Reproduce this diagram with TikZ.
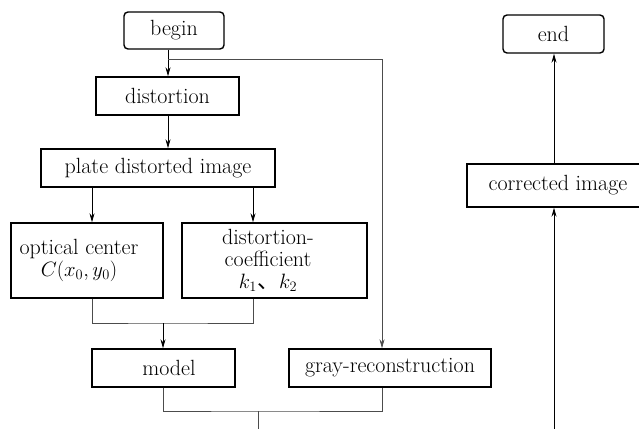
\documentclass[tikz,border=0pt]{standalone}
\usepackage{fontspec}
\newfontfamily\cjk{Noto Sans CJK SC}
\usetikzlibrary{arrows.meta}
\begin{document}
\begin{tikzpicture}[x=1pt,y=-1pt,
  box/.style={draw, line width=1.4pt, inner sep=0pt, font=\fontsize{22}{22}\selectfont, align=center},
  rbox/.style={box, rounded corners=4pt},
  arr/.style={-{Stealth[length=9pt,width=5pt]}, line width=0.9pt},
  ln/.style={line width=0.8pt, draw=black!70},
  txt/.style={font=\fontsize{22}{22}\selectfont, align=center, inner sep=0pt}]
\clip (0,0) rectangle (639,428);
\fill[white] (0,0) rectangle (639,428);
% nodes
\node[rbox, minimum width=100pt, minimum height=37pt] (begin) at (174,30.5) {begin};
\node[box, minimum width=143pt, minimum height=38pt] (dist) at (167.5,96) {distortion};
\node[box, minimum width=234pt, minimum height=38pt] (plate) at (158,168) {plate distorted image};
\node[box, minimum width=152pt, minimum height=75pt] (opt) at (87,260.5) {};
\node[txt] (optt) at (79,260.5) {optical center\\$C(x_0, y_0)$};
\node[box, minimum width=185pt, minimum height=75pt] (dc) at (274.5,260.5) {};
\node[txt] (dct) at (268,260.5) {distortion-\\coefficient\\$k_1${\cjk 、}$k_2$};
\node[box, minimum width=143pt, minimum height=38pt] (model) at (163.5,368) {};
\node[txt] (modelt) at (169,368) {model};
\node[box, minimum width=202pt, minimum height=38pt] (gray) at (390,368) {gray-reconstruction};
\node[rbox, minimum width=101pt, minimum height=38pt] (end) at (553.5,34) {end};
\node[box, minimum width=182pt, minimum height=43pt] (corr) at (558,185.5) {corrected image};
% helper coordinates
\coordinate (j1) at (168,59);
\coordinate (gx) at (382,0);
\coordinate (ax) at (92,0);
\coordinate (bx) at (253,0);
\coordinate (m1) at (163,323);
\coordinate (m2) at (258,411);
\coordinate (m3) at (258,440);
\coordinate (ex) at (554,0);
\coordinate (bot) at (554,440);
% connectors
\draw[arr] (begin.south -| j1) -- (dist.north -| j1);
\draw[arr, ln] (j1) -| (gray.north -| gx);
\draw[arr] (dist.south -| j1) -- (plate.north -| j1);
\draw[arr] (plate.south -| ax) -- (opt.north -| ax);
\draw[arr] (plate.south -| bx) -- (dc.north -| bx);
\draw[ln] (opt.south -| ax) |- (m1) -| (dc.south -| bx);
\draw[arr] (m1) -- (model.north -| m1);
\draw[ln] (model.south -| m1) |- (m2) -| (gray.south -| gx);
\draw[ln] (m2) -- (m3);
\draw[arr] (corr.north -| ex) -- (end.south -| ex);
\draw[arr] (bot) -- (corr.south -| ex);
\end{tikzpicture}
\end{document}
